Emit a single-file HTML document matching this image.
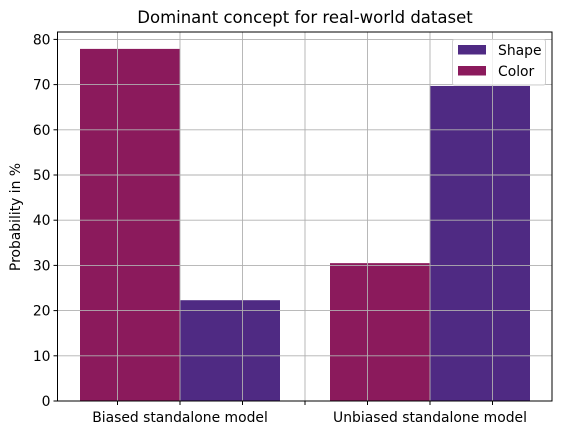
<!DOCTYPE html>
<html><head><meta charset="utf-8"><style>
body{margin:0;background:#fff;font-family:"Liberation Sans","DejaVu Sans",sans-serif}
</style></head><body>
<svg id="chart" width="562" height="435" xmlns="http://www.w3.org/2000/svg" font-family="DejaVu Sans, Liberation Sans, sans-serif">
<rect width="562" height="435" fill="#fff"/>
<text x="305" y="23" font-size="16.5" text-anchor="middle">Dominant concept for real-world dataset</text>
<text transform="translate(20,217) rotate(-90)" font-size="13.9" text-anchor="middle">Probability in %</text>
<g id="bars"></g><g id="grid"></g><g id="axes"></g>
</svg>
<script>
const categories = ["Biased standalone model", "Unbiased standalone model"];
const colorValues = [77.9, 30.5];
const shapeValues = [22.3, 69.7];
const yTicks = [0, 10, 20, 30, 40, 50, 60, 70, 80];
const xTicks = [-0.25, 0, 0.25, 0.5, 0.75, 1, 1.25];

const L = 57.5, R = 552, T = 32, B = 401;
const xs = v => 180 + v * 250;
const ys = v => 401 - v * 4.52;
const NS = "http://www.w3.org/2000/svg";
function mk(tag, attrs, parent) {
  const e = document.createElementNS(NS, tag);
  for (const k in attrs) e.setAttribute(k, attrs[k]);
  document.getElementById(parent).appendChild(e);
  return e;
}
const bw = 0.4;
categories.forEach((c, i) => {
  const b1 = mk("rect", {x: xs(i - bw), y: ys(colorValues[i]), width: xs(i) - xs(i - bw), height: ys(0) - ys(colorValues[i]), fill: "#8b1a5c"}, "bars");
  
  
  const b2 = mk("rect", {x: xs(i), y: ys(shapeValues[i]), width: xs(i + bw) - xs(i), height: ys(0) - ys(shapeValues[i]), fill: "#4f2a83"}, "bars");
  
  
  const t = mk("text", {x: xs(i), y: 422, "font-size": 13.9, "text-anchor": "middle"}, "axes");
  t.textContent = c;
  
  
});
yTicks.forEach(v => {
  const g = mk("line", {x1: L, x2: R, y1: ys(v), y2: ys(v), stroke: "#b0b0b0", "stroke-width": 0.9}, "grid");
  
  
  mk("line", {x1: L - 4, x2: L, y1: ys(v), y2: ys(v), stroke: "#000"}, "axes");
  const t = mk("text", {x: L - 7, y: ys(v) + 5, "font-size": 13.9, "text-anchor": "end"}, "axes");
  t.textContent = v;
  
  
});
xTicks.forEach(v => {
  const g = mk("line", {x1: xs(v), x2: xs(v), y1: T, y2: B, stroke: "#b0b0b0", "stroke-width": 0.9}, "grid");
  
  
  mk("line", {x1: xs(v), x2: xs(v), y1: B, y2: B + 4, stroke: "#000"}, "axes");
});
const frame = mk("rect", {x: L, y: T, width: R - L, height: B - T, fill: "none", stroke: "#000", "stroke-width": 1}, "axes");


const lg = mk("g", {}, "axes");


lg.id = "legend";
mk("rect", {x: 452.5, y: 39.5, width: 93, height: 45.5, rx: 2, fill: "#fff", "fill-opacity": 0.8, stroke: "#d0d0d0"}, "legend");
[["Shape", "#4f2a83", 45], ["Color", "#8b1a5c", 66]].forEach(([n, c, y]) => {
  const p = mk("rect", {x: 458, y: y, width: 28, height: 9.5, fill: c}, "legend");
  
  
  const t = mk("text", {x: 498, y: y + 10, "font-size": 13.9}, "legend");
  t.textContent = n;
  
  
});
</script>
</body></html>
